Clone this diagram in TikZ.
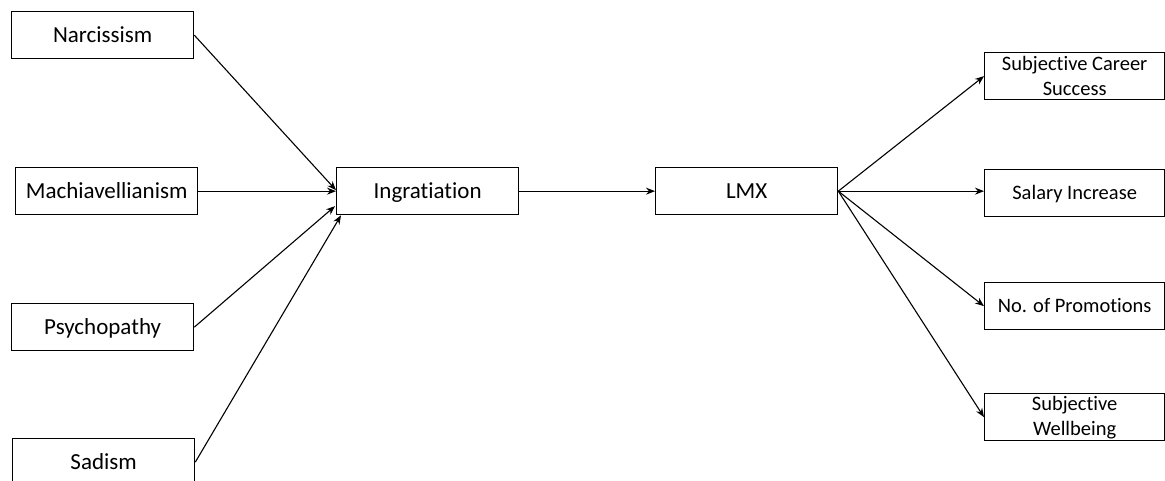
\documentclass[tikz,border=0pt]{standalone}
\usepackage{fontspec}
\setmainfont{Carlito}[Ligatures=NoCommon]
\usetikzlibrary{arrows.meta,calc}
\begin{document}
\begin{tikzpicture}[x=1pt,y=-1pt,
  box/.style={draw, line width=1.3pt, minimum width=182pt, minimum height=47pt, inner sep=0pt, anchor=north west},
  bigtxt/.style={font=\fontsize{23}{27}\selectfont, text height=14.8pt, text depth=0pt},
  smalltxt/.style={font=\fontsize{20.5}{25}\selectfont, text height=13.2pt, text depth=0pt},
  twoline/.style={font=\fontsize{20.5}{25}\selectfont, align=center},
  conn/.style={line width=1.1pt, -{Stealth[length=9pt,width=7pt]}}]
\useasboundingbox (0,0) rectangle (1165,480);
\fill[white] (0,0) rectangle (1165,480);
\node[box,bigtxt] (narc) at (11,11) {Narcissism};
\node[box,bigtxt] (mach) at (15,167) {Machiavellianism};
\node[box,bigtxt] (psy) at (11,303) {Psychopathy};
\node[box,bigtxt] (sad) at (12,438) {Sadism};
\node[box,bigtxt] (ingr) at (336,167) {Ingratiation};
\node[box,bigtxt] (lmx) at (655,167) {LMX};
\node[box,twoline,minimum width=180pt] (scs) at (984,52) {Subjective Career\\Success};
\node[box,smalltxt,minimum width=180pt] (sal) at (984,169) {Salary Increase};
\node[box,smalltxt,minimum width=180pt] (prom) at (984,282) {No. of Promotions};
\node[box,twoline,minimum width=180pt] (wb) at (984,393) {Subjective\\Wellbeing};
\draw[conn] (narc.east) -- ($(ingr.west)+(0,-1)$);
\draw[conn] (mach.east) -- (ingr.west);
\draw[conn] (psy.east) -- ($(ingr.west)+(-1,15)$);
\draw[conn] (sad.east) -- ($(ingr.south west)+(5,0)$);
\draw[conn] (ingr.east) -- (lmx.west);
\draw[conn] (lmx.east) -- (scs.west);
\draw[conn] (lmx.east) -- ($(sal.west)+(0,-2)$);
\draw[conn] (lmx.east) -- (prom.west);
\draw[conn] (lmx.east) -- (wb.west);
\end{tikzpicture}
\end{document}
